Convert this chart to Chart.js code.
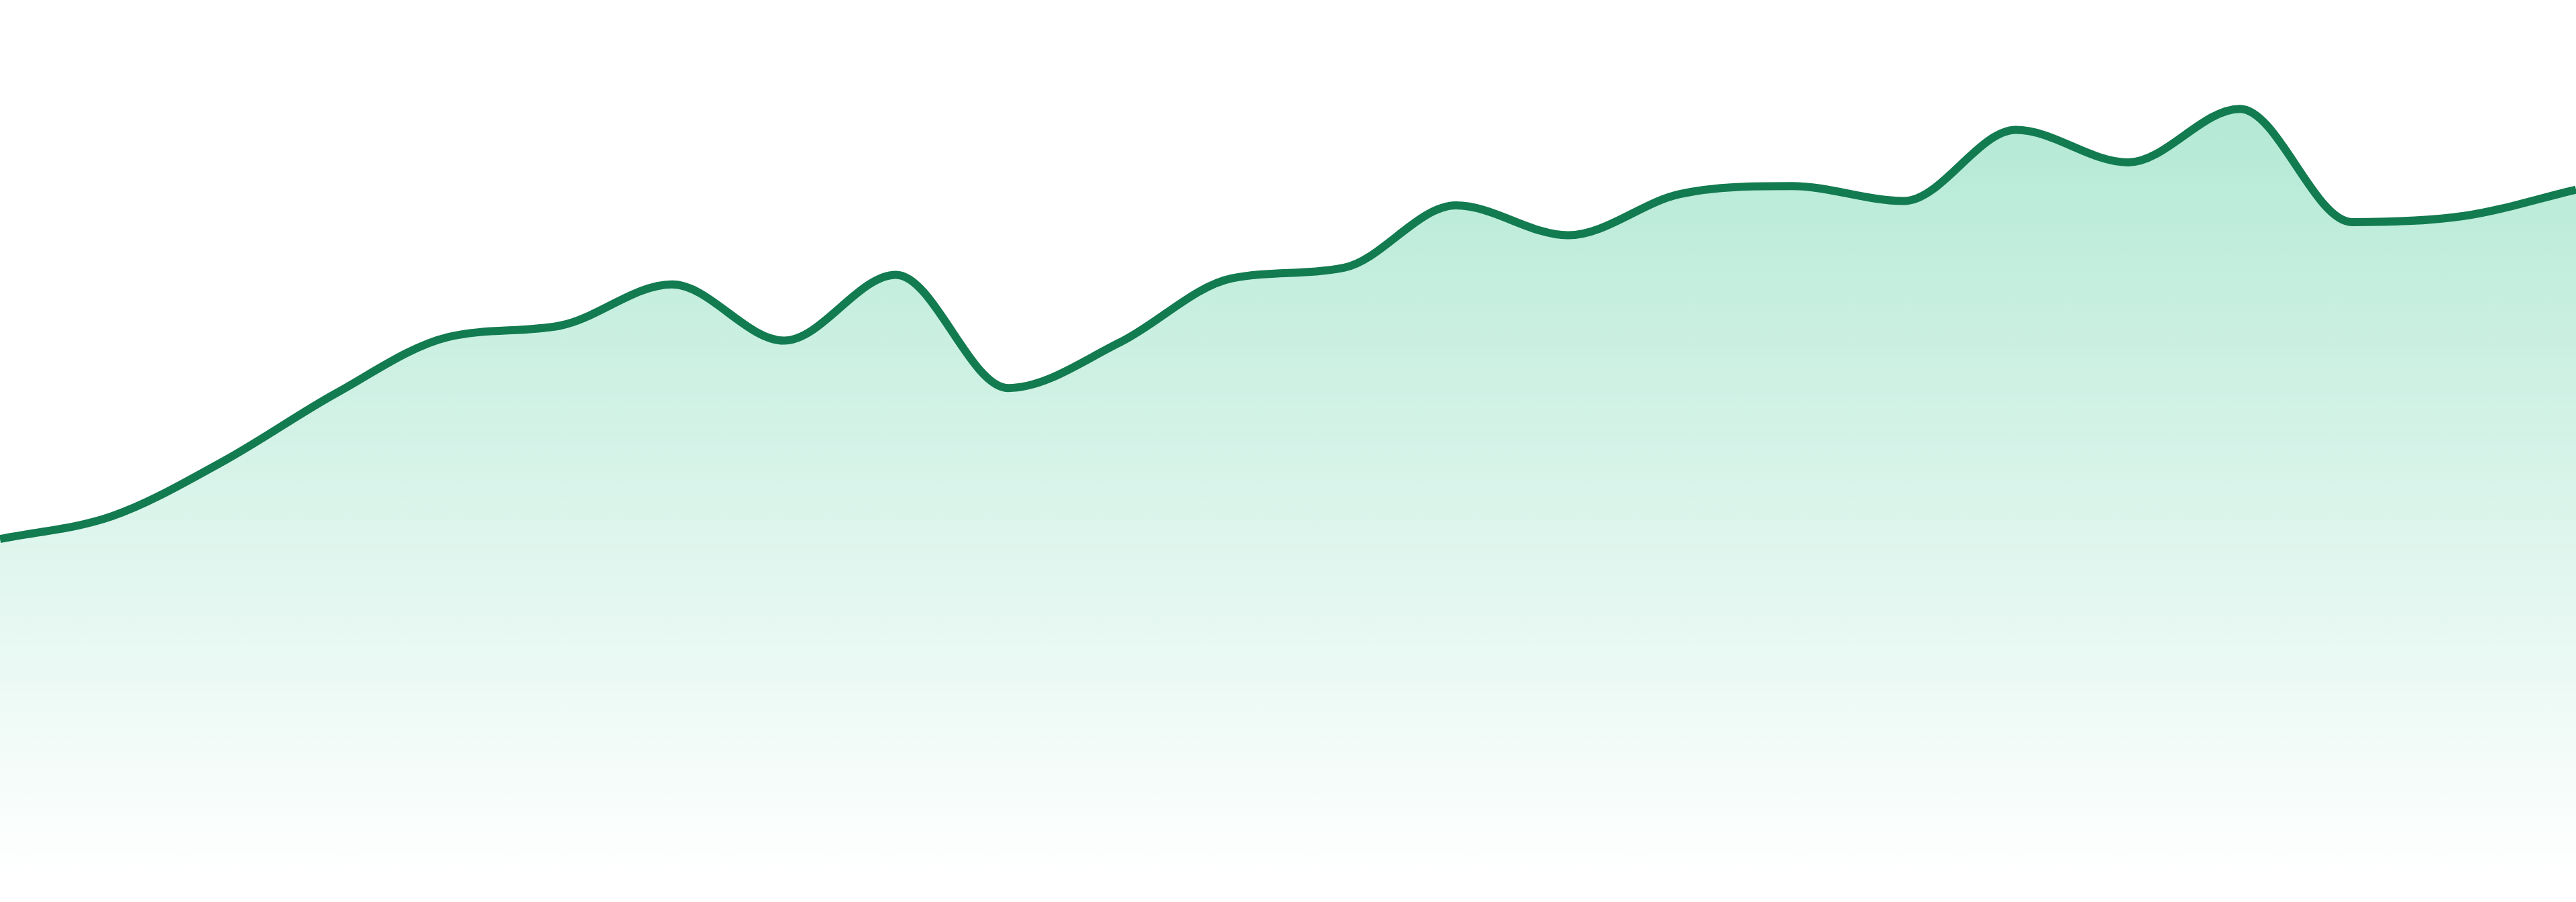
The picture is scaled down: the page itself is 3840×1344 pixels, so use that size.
<!DOCTYPE html>
<html>
<head>
<meta charset="utf-8">
<title>Area trend</title>
<script src="https://cdn.jsdelivr.net/npm/chart.js@4"></script>
<style>
  html, body { margin: 0; padding: 0; background: #ffffff; overflow: hidden; }
  #trendChart { display: block; width: 3840px; height: 1344px; }
</style>
</head>
<body>
<canvas id="trendChart" width="3840" height="1344"></canvas>
<script>
/* ---------- Data ---------- */
const categories = ['1', '2', '3', '4', '5', '6', '7', '8', '9', '10', '11', '12',
                    '13', '14', '15', '16', '17', '18', '19', '20', '21', '22', '23', '24'];

const seriesValues = [38.6, 41.2, 47.5, 55.2, 61.6, 62.9, 67.6, 61.2, 68.7, 55.8, 61.0, 68.3,
                      69.5, 76.6, 73.2, 77.9, 78.8, 77.1, 85.2, 81.5, 87.6, 74.7, 75.4, 78.4];

const yRange = [0, 100];

/* ---------- Chart ---------- */
const ctx = document.getElementById('trendChart');

// Soft green fade from the top of the plot down to the baseline
function areaFill(context) {
  const chart = context.chart;
  const area = chart.chartArea;
  if (!area) return 'rgba(16, 185, 129, 0.2)';
  const g = chart.ctx.createLinearGradient(0, area.top, 0, area.bottom);
  g.addColorStop(0, 'rgba(16, 185, 122, 0.36)');
  g.addColorStop(1, 'rgba(16, 185, 122, 0)');
  return g;
}

new Chart(ctx, {
  type: 'line',
  data: {
    labels: categories,
    datasets: [{
      data: seriesValues,
      borderColor: '#137b50',
      borderWidth: 12,
      backgroundColor: areaFill,
      fill: 'start',
      pointRadius: 0,
      pointHoverRadius: 0,
      cubicInterpolationMode: 'monotone'
    }]
  },
  options: {
    responsive: false,
    devicePixelRatio: 1,
    animation: false,
    layout: { padding: { top: 0, right: 0, bottom: 36, left: 0 } },
    plugins: {
      legend: { display: false },
      tooltip: { enabled: false }
    },
    scales: {
      x: { display: false },
      y: { display: false, min: yRange[0], max: yRange[1] }
    }
  }
});
</script>
</body>
</html>
